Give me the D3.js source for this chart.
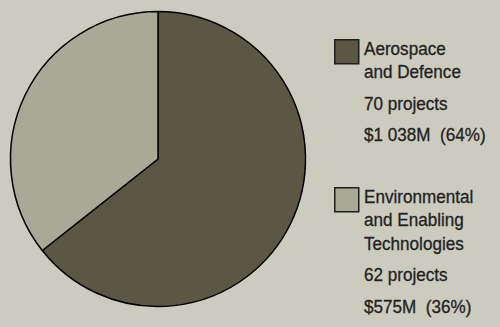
<!DOCTYPE html>
<html>
<head>
<meta charset="utf-8">
<script src="https://cdn.jsdelivr.net/npm/d3@7"></script>
<style>
  html, body { margin: 0; padding: 0; background: #cbcbbe; }
  svg { display: block; }
</style>
</head>
<body>
<div id="chart"></div>
<script>
const width = 500,
      height = 327

// sectors (in $M), clockwise from 12 o'clock
const sectors = ["Aerospace and Defence", "Environmental and Enabling Technologies"]
const funding = [1038, 575]
const projects = [70, 62]
const fills = ["#5a5843", "#a9a997"]

// legend text, one array of lines per sector
const legendTitles = [["Aerospace", "and Defence"], ["Environmental", "and Enabling", "Technologies"]]
const legendDetails = [["70 projects", "$1 038M  (64%)"], ["62 projects", "$575M  (36%)"]]

let svg = d3.select("#chart").append("svg")
    .attr("width", width)
    .attr("height", height)

svg.append("rect")
    .attr("width", width)
    .attr("height", height)
    .attr("fill", "#cbcbbe")

let cx = 158, cy = 159, radius = 147.5

let pie = d3.pie().sort(null).value(d => d)
let arc = d3.arc().innerRadius(0).outerRadius(radius)

let g_pie = svg.append("g")
    .attr("transform", "translate(" + cx + "," + cy + ")")

g_pie.selectAll("path")
    .data(pie(funding))
    .join("path")
    .attr("d", arc)
    .attr("fill", (d, i) => fills[i])
    .attr("stroke", "#000")
    .attr("stroke-width", 1.5)
    .attr("stroke-linejoin", "round")

// legend
let legendTop = [39, 187]
let g_legend = svg.append("g")

sectors.forEach((s, i) => {
    let y0 = legendTop[i]
    g_legend.append("rect")
        .attr("x", 334.75)
        .attr("y", y0 + 0.75)
        .attr("width", 24)
        .attr("height", 24)
        .attr("fill", fills[i])
        .attr("stroke", "#1e1e1e")
        .attr("stroke-width", 1.5)
})

// text is a bit condensed in the original, so squeeze it horizontally
let g_text = g_legend.append("g")
    .attr("transform", "translate(364,0) scale(0.95,1)")
    .attr("font-family", "'Liberation Sans', Arial, sans-serif")
    .attr("font-size", 18)
    .attr("fill", "#222")
    .attr("stroke", "#222")
    .attr("stroke-width", 0.3)

sectors.forEach((s, i) => {
    let baseline = legendTop[i] + 16
    legendTitles[i].forEach((line, j) => {
        g_text.append("text")
            .attr("x", 0)
            .attr("y", baseline + j * 23.3)
            .text(line)
    })
    let after = baseline + (legendTitles[i].length - 1) * 23.3 + 31.5
    legendDetails[i].forEach((line, j) => {
        g_text.append("text")
            .attr("x", 0)
            .attr("y", after + j * 31.5)
            .attr("xml:space", "preserve")
            .style("white-space", "pre")
            .text(line)
    })
})
</script>
</body>
</html>
